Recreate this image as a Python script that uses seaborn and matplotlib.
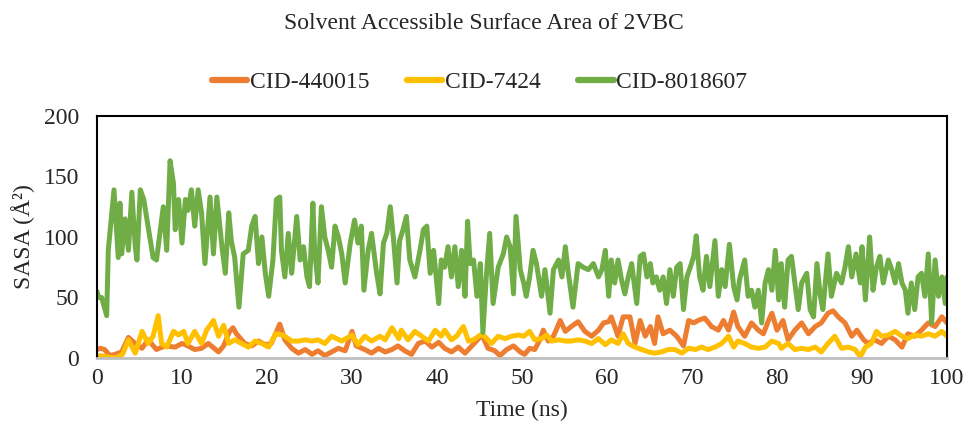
import matplotlib
matplotlib.use("Agg")
import matplotlib.pyplot as plt
import seaborn as sns
import pandas as pd

# Data (time in ns, SASA in A^2)
green_t = [0.0, 0.2, 0.55, 1.14, 1.33, 2.0, 2.5, 2.7, 2.9, 3.3, 3.7, 4.1, 4.5, 4.7, 5.1, 5.5, 6.0, 6.6, 7.0, 7.4,
           7.8, 8.2, 8.6, 9.0, 9.2, 9.6, 10.0, 10.4, 10.7, 11.1, 11.5, 11.9, 12.3, 12.7, 13.3, 13.7, 14.1, 14.7,
           15.1, 15.5, 15.8, 16.2, 16.7, 17.2, 17.8, 18.2, 18.6, 19.0, 19.4, 19.8, 20.2, 20.7, 21.1, 21.5, 21.7,
           22.1, 22.5, 22.9, 23.5, 23.9, 24.3, 24.7, 25.0, 25.4, 25.6, 26.0, 26.4, 26.8, 27.2, 27.6, 28.0, 28.4,
           28.8, 29.2, 29.8, 30.3, 30.7, 31.1, 31.4, 31.9, 32.3, 32.9, 33.3, 33.7, 34.1, 34.5, 34.9, 35.3, 35.6,
           36.0, 36.4, 36.8, 37.4, 38.0, 38.4, 38.8, 39.2, 39.6, 40.2, 40.5, 40.9, 41.3, 41.7, 42.1, 42.5, 42.9,
           43.3, 43.6, 43.9, 44.3, 44.7, 45.1, 45.4, 45.8, 46.2, 46.6, 47.2, 47.8, 48.2, 48.6, 49.0, 49.3, 49.8,
           50.2, 50.5, 50.9, 51.3, 51.7, 52.3, 52.7, 53.3, 53.7, 54.3, 54.7, 55.1, 55.4, 56.0, 56.6, 57.2, 57.8,
           58.4, 59.0, 59.4, 59.8, 60.2, 60.5, 60.9, 61.3, 61.7, 62.1, 62.5, 62.9, 63.5, 63.9, 64.3, 64.7, 65.1,
           65.4, 65.8, 66.2, 66.6, 67.0, 67.4, 67.8, 68.2, 68.6, 69.0, 69.4, 69.8, 70.2, 70.5, 70.9, 71.3, 71.7,
           72.1, 72.7, 73.1, 73.5, 73.9, 74.4, 74.9, 75.3, 75.6, 76.2, 76.6, 77.0, 77.4, 77.8, 78.2, 78.6, 79.0,
           79.4, 79.8, 80.2, 80.5, 80.9, 81.3, 81.7, 82.1, 82.5, 82.9, 83.5, 83.9, 84.3, 84.7, 85.1, 85.4, 86.0,
           86.4, 87.0, 87.6, 88.0, 88.4, 88.8, 89.3, 89.8, 90.0, 90.4, 90.9, 91.3, 91.7, 92.1, 92.5, 93.1, 93.5,
           93.9, 94.3, 94.7, 95.1, 95.4, 95.8, 96.2, 96.6, 97.0, 97.4, 97.8, 98.2, 98.6, 99.0, 99.4, 99.8, 100.0]
green_v = [55, 50, 50, 35, 89, 139, 83, 128, 86, 115, 89, 137, 92, 81, 139, 131, 109, 83, 81, 103,
           125, 89, 163, 144, 106, 131, 95, 131, 122, 139, 109, 139, 120, 78, 133, 86, 133, 92,
           70, 120, 97, 83, 42, 86, 89, 109, 117, 78, 100, 70, 51, 81, 131, 133, 89,
           67, 103, 70, 117, 81, 92, 67, 59, 128, 89, 62, 125, 100, 89, 75, 109, 100,
           86, 62, 95, 114, 95, 109, 56, 89, 103, 70, 53, 95, 103, 125, 97, 62, 97,
           106, 117, 81, 67, 89, 106, 109, 70, 89, 45, 81, 75, 92, 67, 92, 59, 89,
           51, 113, 78, 81, 51, 78, 21, 67, 103, 45, 75, 86, 100, 92, 53, 117, 73,
           62, 51, 67, 89, 78, 51, 73, 37, 73, 81, 67, 92, 73, 42, 78, 75, 73,
           78, 67, 73, 89, 51, 81, 62, 81, 65, 53, 67, 78, 45, 84, 86, 67, 78,
           62, 67, 56, 67, 45, 73, 51, 75, 78, 40, 67, 75, 84, 101, 67, 56, 84,
           59, 97, 51, 73, 59, 94, 59, 48, 65, 81, 51, 56, 42, 56, 29, 62, 73,
           56, 89, 48, 78, 42, 81, 84, 62, 40, 62, 70, 40, 34, 78, 51, 40, 86,
           51, 70, 62, 75, 92, 67, 86, 62, 92, 48, 100, 56, 75, 84, 62, 81, 73,
           62, 78, 62, 56, 37, 62, 40, 67, 70, 51, 86, 29, 81, 51, 67, 45, 67]

yellow_t = [0.0, 0.4, 1.1, 2.2, 3.0, 3.7, 4.5, 5.3, 6.0, 6.6, 7.2, 7.6, 8.2, 9.0, 9.6, 10.2, 10.7, 11.5, 12.3,
            12.9, 13.7, 14.3, 14.9, 15.5, 16.2, 17.0, 17.8, 18.6, 19.4, 20.2, 21.0, 21.9, 22.9, 23.7, 24.5,
            25.3, 26.0, 26.8, 27.6, 28.8, 30.0, 30.7, 31.5, 32.3, 33.3, 33.9, 34.7, 35.5, 35.8, 36.6, 37.4,
            38.2, 39.0, 39.8, 40.5, 40.9, 41.7, 42.3, 43.1, 43.7, 44.3, 45.1, 45.6, 46.4, 47.2, 48.0, 48.8,
            49.6, 50.2, 50.9, 51.5, 52.3, 52.9, 53.5, 54.3, 55.1, 55.8, 56.6, 57.4, 58.2, 59.0, 59.8, 60.5,
            61.3, 61.9, 62.5, 63.3, 64.1, 64.9, 65.6, 66.4, 67.2, 68.0, 68.8, 69.6, 70.4, 71.1, 71.9, 72.7,
            73.5, 74.3, 74.9, 75.4, 76.2, 77.0, 77.8, 78.6, 79.4, 80.2, 80.5, 81.3, 82.1, 82.9, 83.7, 84.5,
            85.2, 86.0, 86.8, 87.6, 88.4, 89.2, 89.8, 90.4, 91.1, 91.7, 92.3, 93.1, 93.9, 94.7, 95.4, 96.2,
            97.0, 97.8, 98.6, 99.4, 100.0]
yellow_v = [1, 2, 1, 0, 3, 15, 4, 22, 12, 18, 35, 12, 9, 22, 19, 22, 12, 22, 12,
            23, 31, 18, 27, 12, 15, 12, 9, 14, 12, 9, 20, 19, 14, 14, 15,
            14, 15, 12, 18, 14, 19, 11, 18, 14, 18, 15, 25, 16, 23, 15, 22,
            18, 14, 23, 18, 23, 15, 18, 26, 14, 15, 19, 18, 12, 18, 16, 18,
            19, 18, 22, 15, 16, 19, 14, 15, 14, 14, 15, 14, 12, 16, 11, 15,
            12, 20, 12, 9, 7, 5, 4, 5, 7, 7, 4, 8, 7, 9, 7, 9,
            12, 18, 9, 14, 12, 9, 8, 9, 14, 12, 8, 12, 7, 8, 7, 9,
            5, 12, 18, 8, 9, 7, 1, 9, 12, 22, 18, 19, 22, 18, 16, 19,
            18, 20, 18, 22, 18]

orange_t = [0.0, 0.4, 0.9, 1.5, 2.1, 2.9, 3.7, 4.5, 5.3, 6.0, 7.0, 8.0, 9.2, 10.0, 10.7, 11.5, 12.3, 13.1,
            14.3, 14.9, 15.6, 16.0, 16.4, 17.4, 18.2, 19.0, 19.8, 20.5, 21.5, 22.1, 22.9, 23.7, 24.5, 25.3,
            26.0, 26.8, 27.6, 28.4, 29.2, 30.0, 30.5, 31.5, 32.3, 33.1, 33.9, 34.7, 35.4, 36.2, 37.0, 37.8,
            38.6, 39.4, 40.2, 40.9, 41.7, 42.5, 43.3, 44.1, 45.3, 46.0, 46.8, 47.4, 48.2, 49.0, 49.8, 50.3,
            50.9, 51.5, 52.1, 52.5, 53.1, 53.7, 54.5, 55.1, 55.8, 56.6, 57.4, 58.2, 59.0, 59.6, 60.2, 60.5,
            61.3, 61.9, 62.7, 63.3, 63.9, 64.5, 65.1, 65.6, 66.0, 66.6, 67.4, 68.2, 69.0, 69.6, 70.2, 70.7,
            71.5, 72.3, 73.1, 73.7, 74.3, 74.9, 75.4, 76.2, 77.0, 77.8, 78.4, 79.0, 79.4, 80.0, 80.7, 81.3,
            82.1, 82.9, 83.7, 84.5, 85.2, 86.0, 86.6, 87.2, 88.0, 88.8, 89.4, 90.2, 90.7, 91.5, 92.3, 93.1,
            93.9, 94.7, 95.4, 96.2, 97.0, 97.8, 98.6, 99.4, 100.0]
orange_v = [7, 8, 7, 2, 3, 5, 17, 12, 8, 15, 7, 10, 9, 12, 10, 7, 8, 12,
            5, 10, 22, 25, 20, 12, 10, 14, 11, 12, 28, 15, 8, 4, 7, 3,
            6, 2, 5, 8, 6, 22, 10, 7, 4, 8, 5, 7, 10, 6, 3, 12,
            14, 9, 13, 8, 5, 9, 4, 10, 19, 8, 6, 2, 7, 10, 5, 3,
            8, 7, 15, 23, 14, 18, 31, 22, 26, 30, 22, 18, 23, 29, 30, 34,
            18, 34, 34, 12, 31, 18, 26, 12, 34, 20, 23, 18, 10, 31, 29, 31,
            33, 26, 23, 31, 23, 38, 26, 18, 29, 23, 20, 31, 37, 23, 31, 15,
            23, 29, 20, 26, 29, 37, 39, 34, 29, 18, 23, 15, 12, 15, 12, 18,
            15, 9, 20, 18, 23, 29, 26, 34, 29]

labels = ["CID-440015", "CID-7424", "CID-8018607"]
colors = ["#ED7D31", "#FFC000", "#70AD47"]

sns.set_style("white")
plt.rcParams["font.family"] = ["Liberation Serif", "DejaVu Serif"]

fig = plt.figure(figsize=(9.68, 4.32), dpi=100)
ax = fig.add_axes([0.1002, 0.1713, 0.8781, 0.5602])

series = [(orange_t, orange_v), (yellow_t, yellow_v), (green_t, green_v)]
for (t, v), lab, col in zip(series, labels, colors):
    df = pd.DataFrame({"t": t, "sasa": v})
    sns.lineplot(data=df, x="t", y="sasa", ax=ax, color=col, linewidth=3.6,
                 label=lab, estimator=None, sort=False,
                 solid_joinstyle="round", solid_capstyle="round")

ax.set_xlim(0, 100)
ax.set_ylim(0, 200)
ax.set_xticks(range(0, 101, 10))
ax.set_yticks(range(0, 201, 50))
ax.tick_params(length=0, labelsize=17)
ax.tick_params(axis="x", pad=7)
ax.tick_params(axis="y", pad=13)
ax.set_xlabel("Time (ns)", fontsize=17, labelpad=8)
ax.set_ylabel("SASA (Å²)", fontsize=17, labelpad=6)

for side in ["left", "top", "right"]:
    ax.spines[side].set_color("black")
    ax.spines[side].set_linewidth(1.5)
ax.spines["bottom"].set_color("#bfbfbf")
ax.spines["bottom"].set_linewidth(2)

fig.text(0.5, 0.945, "Solvent Accessible Surface Area of 2VBC", ha="center", va="center", fontsize=17)
ax.legend(loc="center", bbox_to_anchor=(0.45, 1.14), ncol=3, frameon=False, fontsize=17,
          handlelength=1.5, handletextpad=0.1, columnspacing=1.6)
for line in ax.get_legend().get_lines():
    line.set_linewidth(4.5)

fig.savefig("out.png", dpi=100)
